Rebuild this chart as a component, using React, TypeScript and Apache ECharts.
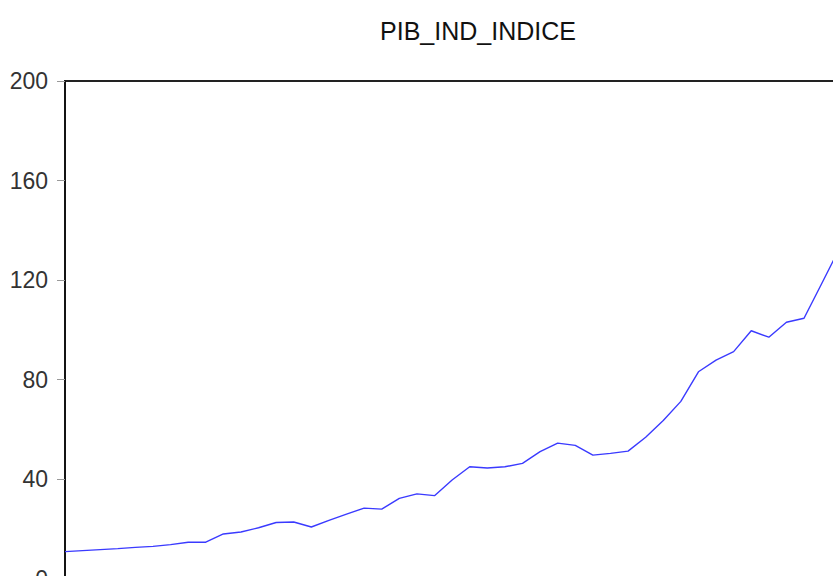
import React, { useEffect, useRef } from "react";
import * as echarts from "echarts";

const titleText = "PIB_IND_INDICE";
const years: string[] = [];
for (let y = 1970; y <= 2017; y++) years.push(String(y));
const pibIndIndice = [
  10.8, 11.2, 11.6, 12.0, 12.5, 12.9, 13.6, 14.6, 14.6, 17.9,
  18.7, 20.4, 22.5, 22.7, 20.7, 23.4, 25.9, 28.3, 27.9, 32.2,
  34.0, 33.3, 39.6, 44.9, 44.4, 44.9, 46.3, 51.0, 54.4, 53.5,
  49.6, 50.3, 51.2, 56.8, 63.5, 71.2, 83.1, 87.8, 91.2, 99.6,
  97.0, 103.0, 104.6, 118.5, 132.5, 138.0, 146.0, 152.0,
];
const yMin = 0;
const yMax = 200;
const yStep = 40;

export default function App() {
  const ref = useRef<HTMLDivElement>(null);
  useEffect(() => {
    if (!ref.current) return;
    const chart = echarts.init(ref.current, undefined, { renderer: "svg" });
    chart.setOption({
      animation: false,
      backgroundColor: "#ffffff",
      title: {
        text: titleText,
        left: "center",
        top: 13,
        textStyle: {
          fontFamily: "Liberation Sans",
          fontSize: 25,
          fontWeight: "normal",
          color: "#111",
        },
      },
      grid: {
        left: 65,
        top: 81,
        width: 827,
        height: 497.5,
        show: true,
        borderColor: "#222",
        borderWidth: 2,
        backgroundColor: "transparent",
      },
      xAxis: {
        type: "category",
        data: years,
        boundaryGap: false,
        axisLine: { show: false },
        axisTick: { show: false },
        axisLabel: { show: false },
        splitLine: { show: false },
      },
      yAxis: {
        type: "value",
        min: yMin,
        max: yMax,
        interval: yStep,
        axisLine: { show: true, lineStyle: { color: "#111", width: 1.5 } },
        axisTick: { show: true, length: 8, lineStyle: { color: "#999", width: 1 } },
        axisLabel: {
          margin: 17,
          fontFamily: "Liberation Sans",
          fontSize: 23,
          color: "#333",
          padding: [0, 0, 5, 0],
        },
        splitLine: { show: false },
      },
      series: [
        {
          type: "line",
          data: pibIndIndice,
          showSymbol: false,
          lineStyle: { color: "#3a3aff", width: 1.4 },
        },
      ],
    });
    return () => chart.dispose();
  }, []);
  return (
    <div
      style={{
        position: "fixed",
        left: 0,
        top: 0,
        width: 833,
        height: 576,
        overflow: "hidden",
        background: "#fff",
      }}
    >
      <div ref={ref} style={{ width: 956, height: 640 }} />
    </div>
  );
}
